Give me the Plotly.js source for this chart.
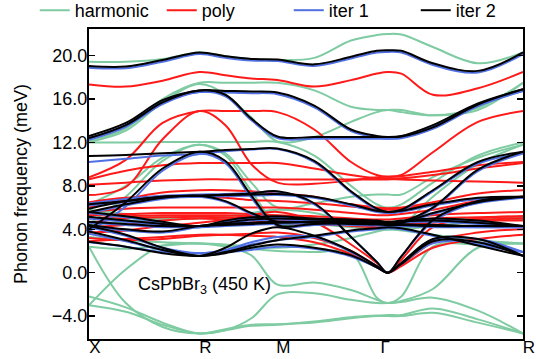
<!DOCTYPE html>
<html>
<head>
<meta charset="utf-8">
<script src="https://cdn.plot.ly/plotly-3.0.1.min.js"></script>
<style>html,body{margin:0;padding:0;background:#fff;}#chart{width:536px;height:359px;}</style>
</head>
<body>
<div id="chart"></div>
<script>
// k-path positions (cumulative distance along X-R-M-Γ-R, units of 2π/a)
const kpos = [0, 0.2357, 0.4714, 0.7071, 0.8738, 1.0404, 1.2071, 1.4428, 1.6785, 1.8435, 1.9142, 2.0008, 2.2029, 2.4915, 2.7802];
const hspPos = [0, 0.7071, 1.2071, 1.9142, 2.7802];
const hspLabels = ['X', 'R', 'M', 'Γ\u2003', 'R'];
const yTicks = [-4, 0, 4, 8, 12, 16, 20];

// harmonic (meV; negative = imaginary)
const harmonicBands = [
  [-3.0, -3.6, -4.8, -5.6, -5.3, -4.9, -4.8, -4.5, -4.1, -3.95, -3.9, -3.9, -3.3, -4.3, -5.6],
  [-2.2, -3.2, -4.6, -5.6, -5.2, -4.8, -4.75, -4.6, -4.2, -4.0, -4.0, -4.0, -3.7, -4.6, -5.6],
  [2.4, -2.8, -5.0, -5.6, -5.3, -4.2, -2.0, -1.9, -2.5, -2.8, -2.8, -2.7, -2.3, -3.5, -5.6],
  [-3.0, 0.3, 2.5, 2.7, 2.4, 1.6, -1.1, -0.9, -1.6, -2.5, -2.8, -2.6, -1.5, 2.3, 2.7],
  [2.4, 2.2, 2.5, 2.7, 2.5, 2.2, 2.0, 1.9, 1.8, -2.3, -2.8, -2.2, 2.4, 2.6, 2.7],
  [3.3, 3.0, 2.8, 2.7, 2.6, 2.4, 2.3, 2.6, 3.2, 3.8, 4.0, 3.9, 3.5, 3.0, 2.7],
  [4.5, 4.7, 4.9, 5.0, 5.0, 4.9, 4.8, 4.5, 4.2, 4.0, 4.0, 4.0, 4.3, 4.7, 5.0],
  [5.0, 5.0, 5.0, 5.05, 5.1, 5.1, 5.0, 4.7, 4.3, 4.1, 4.0, 4.1, 4.6, 4.9, 5.0],
  [5.8, 5.4, 5.1, 5.05, 5.2, 5.5, 5.8, 5.5, 4.6, 4.1, 4.0, 4.1, 4.8, 5.0, 5.05],
  [6.3, 8.0, 10.6, 11.8, 11.0, 8.3, 6.0, 6.4, 7.0, 7.2, 7.2, 7.2, 8.8, 10.6, 11.8],
  [4.5, 7.0, 10.3, 11.8, 10.8, 7.5, 4.6, 4.5, 4.3, 4.1, 4.0, 4.3, 7.0, 10.0, 11.8],
  [12.0, 12.0, 12.05, 12.05, 12.05, 12.05, 12.05, 10.8, 8.0, 6.3, 6.0, 6.3, 8.3, 10.8, 12.0],
  [12.05, 13.1, 15.7, 17.4, 16.4, 14.3, 12.1, 12.5, 13.9, 14.8, 15.0, 14.8, 14.5, 15.0, 17.5],
  [12.1, 13.3, 16.0, 17.5, 17.5, 17.5, 17.5, 16.8, 15.3, 15.0, 15.0, 15.0, 14.5, 15.2, 17.5],
  [19.45, 19.45, 19.7, 20.3, 19.95, 19.7, 19.6, 19.8, 21.4, 21.9, 22.0, 21.95, 20.8, 19.3, 20.3]
];

// poly
const polyBands = [
  [2.9, 3.1, 3.3, 3.5, 3.5, 3.4, 3.3, 2.8, 1.7, 0.5, 0.0, 0.6, 2.3, 3.1, 3.5],
  [3.2, 3.0, 3.1, 3.4, 3.5, 3.6, 3.7, 3.2, 2.0, 0.6, 0.0, 0.7, 2.8, 3.7, 4.0],
  [3.7, 3.9, 4.3, 4.6, 4.9, 5.3, 5.6, 4.7, 2.6, 0.9, 0.0, 1.2, 4.2, 5.0, 5.2],
  [4.2, 4.4, 4.8, 5.0, 4.9, 4.8, 4.6, 4.5, 4.3, 4.2, 4.2, 4.3, 4.6, 4.8, 4.8],
  [4.6, 5.0, 5.1, 5.15, 5.1, 5.0, 4.9, 4.7, 4.5, 4.4, 4.4, 4.5, 4.7, 4.9, 5.0],
  [5.0, 5.2, 5.3, 5.3, 5.3, 5.2, 5.1, 5.0, 4.8, 4.6, 4.6, 4.7, 5.0, 5.1, 5.2],
  [5.3, 5.4, 5.5, 5.5, 5.5, 5.4, 5.3, 5.2, 5.0, 4.9, 4.9, 5.0, 5.3, 5.5, 5.6],
  [5.6, 5.9, 6.0, 6.0, 6.0, 6.0, 6.0, 5.8, 5.5, 5.3, 5.3, 5.4, 5.8, 6.6, 7.0],
  [6.5, 6.9, 7.0, 7.0, 6.9, 6.7, 6.6, 6.4, 6.1, 5.9, 5.8, 5.9, 6.3, 6.8, 7.0],
  [6.0, 6.8, 7.4, 7.6, 7.6, 7.5, 7.3, 7.0, 6.3, 6.0, 5.95, 6.0, 6.5, 7.3, 7.6],
  [8.1, 8.3, 8.5, 8.6, 8.6, 8.6, 8.6, 8.6, 8.6, 8.6, 8.6, 8.6, 8.5, 8.4, 8.3],
  [8.6, 9.4, 9.9, 10.1, 10.1, 10.1, 10.1, 9.6, 9.0, 8.7, 8.7, 8.7, 9.0, 9.6, 10.1],
  [7.15, 7.9, 12.3, 14.9, 13.6, 10.0, 8.3, 8.2, 8.5, 8.8, 8.85, 8.9, 9.3, 9.9, 10.2],
  [8.8, 10.4, 13.8, 14.9, 14.9, 14.9, 14.8, 13.2, 10.2, 9.0, 8.85, 9.0, 11.1, 13.9, 14.9],
  [17.35, 17.15, 17.7, 18.5, 18.2, 17.9, 17.75, 17.15, 17.75, 18.35, 18.5, 18.35, 16.4, 17.0, 18.5]
];

// iteration 1
const iter1Bands = [
  [2.8, 2.4, 1.9, 1.8, 1.9, 2.1, 2.4, 2.2, 1.5, 0.5, 0.0, 0.8, 2.7, 2.8, 1.9],
  [3.6, 2.9, 2.1, 1.8, 2.1, 2.8, 3.3, 3.3, 1.9, 0.6, 0.0, 0.9, 3.0, 3.1, 1.9],
  [4.2, 3.4, 2.3, 1.8, 2.0, 2.6, 3.0, 3.3, 3.8, 4.0, 4.1, 4.0, 3.4, 2.6, 1.9],
  [4.3, 3.9, 3.7, 4.2, 4.4, 4.5, 4.6, 4.5, 4.4, 4.35, 4.3, 4.3, 4.2, 4.2, 4.2],
  [4.6, 4.4, 4.2, 4.2, 4.3, 4.4, 4.5, 4.6, 4.6, 4.5, 4.5, 4.4, 4.3, 4.2, 4.2],
  [5.0, 4.7, 4.4, 4.2, 4.5, 4.8, 4.9, 4.8, 4.7, 4.6, 4.5, 4.6, 4.7, 4.5, 4.2],
  [5.5, 5.1, 4.6, 4.2, 4.7, 5.0, 5.1, 4.9, 4.8, 4.7, 4.6, 4.7, 4.9, 4.7, 4.2],
  [6.2, 6.5, 6.9, 7.0, 7.05, 7.1, 7.15, 6.9, 6.2, 5.6, 5.5, 5.6, 6.2, 6.8, 6.9],
  [5.5, 6.2, 6.8, 7.0, 6.5, 5.4, 4.6, 4.6, 4.5, 4.4, 4.4, 4.5, 5.4, 6.4, 6.9],
  [6.4, 6.8, 7.1, 7.2, 7.25, 7.35, 7.45, 6.3, 3.3, 1.0, 0.0, 1.5, 4.7, 6.5, 6.9],
  [3.8, 6.1, 9.4, 10.95, 10.1, 6.9, 4.3, 4.4, 4.5, 4.5, 4.5, 4.6, 5.9, 9.35, 11.0],
  [10.2, 10.5, 10.8, 10.95, 11.2, 11.35, 11.4, 10.2, 7.4, 5.8, 5.5, 5.7, 7.5, 10.05, 11.0],
  [12.25, 13.45, 15.55, 16.65, 16.25, 14.05, 12.4, 12.35, 12.35, 12.35, 12.35, 12.4, 13.25, 15.35, 16.75],
  [12.4, 13.6, 15.75, 16.65, 16.6, 16.55, 16.45, 15.25, 13.05, 12.45, 12.35, 12.45, 13.45, 15.45, 16.75],
  [18.9, 18.85, 19.45, 20.15, 19.8, 19.55, 19.5, 19.05, 19.75, 20.3, 20.35, 20.3, 19.15, 18.45, 20.15]
];

// iteration 2
const iter2Bands = [
  [2.85, 2.4, 1.8, 1.55, 1.8, 2.3, 2.6, 2.3, 1.6, 0.5, 0.0, 0.8, 2.9, 2.8, 1.55],
  [3.8, 3.0, 2.1, 1.55, 2.3, 3.6, 4.2, 3.4, 2.0, 0.6, 0.0, 0.9, 3.1, 3.1, 1.55],
  [4.3, 3.5, 2.3, 1.55, 1.9, 2.5, 3.0, 3.4, 3.9, 4.1, 4.2, 4.1, 3.5, 2.5, 1.55],
  [4.4, 4.0, 3.8, 4.3, 4.5, 4.6, 4.7, 4.6, 4.5, 4.45, 4.4, 4.4, 4.3, 4.3, 4.3],
  [4.7, 4.5, 4.3, 4.3, 4.4, 4.5, 4.6, 4.7, 4.7, 4.6, 4.6, 4.5, 4.4, 4.3, 4.3],
  [5.15, 4.8, 4.5, 4.3, 4.6, 4.9, 5.0, 4.9, 4.8, 4.7, 4.6, 4.7, 4.8, 4.6, 4.3],
  [5.6, 5.2, 4.7, 4.3, 4.8, 5.1, 5.2, 5.0, 4.9, 4.8, 4.7, 4.8, 5.0, 4.8, 4.3],
  [6.3, 6.6, 7.0, 7.1, 7.15, 7.2, 7.25, 7.0, 6.3, 5.7, 5.6, 5.7, 6.3, 6.9, 7.0],
  [5.6, 6.3, 6.9, 7.1, 6.6, 5.5, 4.7, 4.7, 4.6, 4.5, 4.5, 4.6, 5.5, 6.5, 7.0],
  [5.9, 6.6, 7.0, 7.1, 7.2, 7.3, 7.5, 6.4, 3.3, 1.0, 0.0, 1.5, 4.85, 6.6, 7.0],
  [4.0, 6.5, 9.6, 11.15, 10.3, 7.1, 4.4, 4.5, 4.6, 4.6, 4.6, 4.7, 6.0, 9.5, 11.15],
  [10.75, 10.85, 11.0, 11.15, 11.3, 11.4, 11.45, 10.3, 7.5, 5.9, 5.6, 5.8, 7.6, 10.2, 11.15],
  [12.4, 13.6, 15.7, 16.8, 16.4, 14.2, 12.55, 12.5, 12.5, 12.5, 12.5, 12.55, 13.4, 15.5, 16.9],
  [12.6, 13.8, 15.9, 16.8, 16.75, 16.7, 16.6, 15.4, 13.2, 12.6, 12.5, 12.6, 13.6, 15.6, 16.9],
  [19.05, 19.0, 19.6, 20.3, 19.95, 19.7, 19.65, 19.2, 19.9, 20.45, 20.5, 20.45, 19.3, 18.6, 20.3]
];

const series = [
  {name: 'harmonic', color: '#7fcba2', bands: harmonicBands},
  {name: 'poly', color: '#ff1a1a', bands: polyBands},
  {name: 'iter 1', color: '#4f6fe3', bands: iter1Bands},
  {name: 'iter 2', color: '#000000', bands: iter2Bands}
];

const traces = [];
series.forEach(s => {
  s.bands.forEach((b, i) => {
    traces.push({
      x: kpos, y: b, type: 'scatter', mode: 'lines',
      name: s.name, legendgroup: s.name, showlegend: i === 0,
      line: {color: s.color, width: 2, shape: 'spline', smoothing: 1},
      hoverinfo: 'skip'
    });
  });
});

const font = 'Liberation Sans, Arial, sans-serif';
const layout = {
  width: 536, height: 359,
  margin: {l: 89, r: 13, t: 29, b: 20, autoexpand: false},
  paper_bgcolor: '#fff', plot_bgcolor: '#fff',
  font: {family: font, size: 18, color: '#000'},
  showlegend: true,
  legend: {orientation: 'h', x: -0.125, xanchor: 'left', y: 1.0, yanchor: 'bottom',
    font: {family: font, size: 18}, itemwidth: 30, entrywidth: 82, entrywidthmode: 'pixels',
    bgcolor: 'rgba(0,0,0,0)', tracegroupgap: 0},
  xaxis: {range: [0, 2.7802], tickmode: 'array', tickvals: hspPos, ticktext: hspLabels,
    ticks: '', showgrid: false, zeroline: false, showline: true, mirror: true,
    linecolor: '#000', linewidth: 2, ticklabelshift: 6, ticklabelstandoff: -8,
    tickfont: {size: 17}},
  yaxis: {range: [-6.11, 22.46], tickmode: 'array', tickvals: yTicks, tickformat: '.1f',
    ticks: 'inside', ticklen: 6, tickwidth: 1.5, tickcolor: '#000',
    showgrid: false, zeroline: false, showline: true, mirror: 'ticks',
    linecolor: '#000', linewidth: 2, ticklabelstandoff: -4, tickfont: {size: 18},
    title: {text: 'Phonon frequency (meV)', font: {size: 18}, standoff: 20}},
  annotations: [{x: 0.743, y: -1.15, xref: 'x', yref: 'y', showarrow: false,
    text: 'CsPbBr<sub>3</sub> (450 K)', font: {size: 18, family: font}}]
};

Plotly.newPlot('chart', traces, layout, {staticPlot: true, displayModeBar: false});
</script>
</body>
</html>
